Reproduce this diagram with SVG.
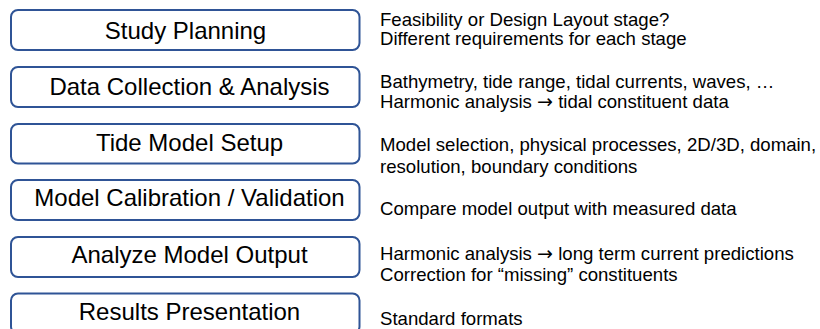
<svg xmlns="http://www.w3.org/2000/svg" width="820" height="329" viewBox="0 0 820 329">
<style>
.box{fill:#fff;stroke:#2F5496;stroke-width:2}
.lbl{font-family:"Liberation Sans",Arial,sans-serif;font-size:24px;fill:#000;text-anchor:middle}
.note{font-family:"Liberation Sans",Arial,sans-serif;font-size:18.6px;fill:#000}
.arr{font-family:"DejaVu Sans",sans-serif;font-size:19px}
</style>
<rect width="820" height="329" fill="#fff"/>
<g id="connectors"></g>
<g id="node1"><rect class="box" x="11" y="10" width="348.5" height="40" rx="7"/><text class="lbl" x="185.5" y="39">Study Planning</text></g>
<g id="node2"><rect class="box" x="11" y="67" width="348.5" height="40" rx="7"/><text class="lbl" x="189.5" y="95">Data Collection &amp; Analysis</text></g>
<g id="node3"><rect class="box" x="11" y="124" width="348.5" height="39.5" rx="7"/><text class="lbl" x="189.5" y="151">Tide Model Setup</text></g>
<g id="node4"><rect class="box" x="11" y="180" width="348.5" height="40" rx="7"/><text class="lbl" x="189.5" y="206">Model Calibration / Validation</text></g>
<g id="node5"><rect class="box" x="11" y="237" width="348.5" height="40" rx="7"/><text class="lbl" x="189.5" y="263">Analyze Model Output</text></g>
<g id="node6"><rect class="box" x="11" y="293.5" width="348.5" height="40" rx="7"/><text class="lbl" x="189.5" y="320">Results Presentation</text></g>
<g id="notes">
<text class="note" x="380" y="26">Feasibility or Design Layout stage?</text>
<text class="note" x="380" y="45">Different requirements for each stage</text>
<text class="note" x="380" y="87.5">Bathymetry, tide range, tidal currents, waves, …</text>
<text class="note" x="380" y="108">Harmonic analysis <tspan class="arr">→</tspan> tidal constituent data</text>
<text class="note" x="380" y="151">Model selection, physical processes, 2D/3D, domain,</text>
<text class="note" x="380" y="173">resolution, boundary conditions</text>
<text class="note" x="380" y="215">Compare model output with measured data</text>
<text class="note" x="380" y="260">Harmonic analysis <tspan class="arr">→</tspan> long term current predictions</text>
<text class="note" x="380" y="280.5">Correction for “missing” constituents</text>
<text class="note" x="380" y="325">Standard formats</text>
</g>
</svg>
